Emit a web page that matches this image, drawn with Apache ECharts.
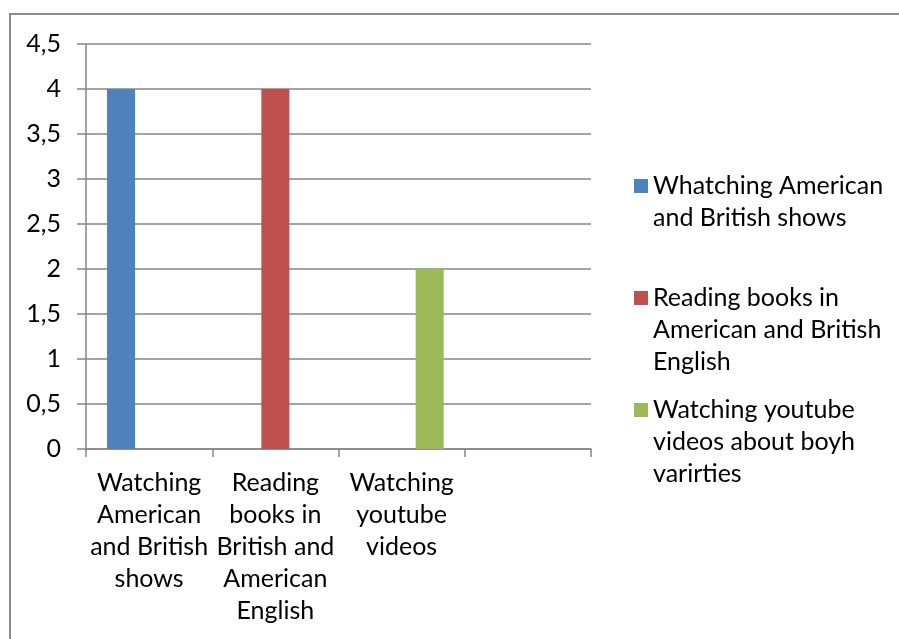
<!DOCTYPE html>
<html>
<head>
<meta charset="utf-8">
<script src="https://cdn.jsdelivr.net/npm/echarts@6/dist/echarts.min.js"></script>
<style>
  html, body { margin: 0; padding: 0; background: #fff; }
  #chart { width: 899px; height: 639px; }
</style>
</head>
<body>
<div id="chart"></div>
<script>
// Category labels (already broken into lines) for the x axis
const categories = [
  'Watching\nAmerican\nand British\nshows',
  'Reading\nbooks in\nBritish and\nAmerican\nEnglish',
  'Watching\nyoutube\nvideos',
  ''
];

// Series names and their line-broken legend text
const seriesNames = [
  'Whatching American and British shows',
  'Reading books in American and British English',
  'Watching youtube videos about boyh varirties'
];
const legendText = [
  'Whatching American\nand British shows',
  'Reading books in\nAmerican and British\nEnglish',
  'Watching youtube\nvideos about boyh\nvarirties'
];

// Values per series, one value per category
const showsValues   = [4, null, null, null];
const booksValues   = [null, 4, null, null];
const youtubeValues = [null, null, 2, null];

// Y axis ticks
const yMin = 0;
const yMax = 4.5;
const yStep = 0.5;

const colors = ['#4F81BD', '#C0504D', '#9BBB59'];
const seriesValues = [showsValues, booksValues, youtubeValues];

const FONT = 'Lato';
const FS = 25;
const LH = 32;

const chart = echarts.init(document.getElementById('chart'), null, { renderer: 'canvas' });

// One legend per series so each entry can sit at its own height.
// Legend text is centred on the swatch, so blank lines are added above
// to bring the first line level with the swatch.
const legendTops = [138, 218, 330];
const legends = seriesNames.map((name, i) => {
  const lines = legendText[i].split('\n').length;
  const text = ' \n'.repeat(lines - 1) + legendText[i];
  return {
    data: [name],
    left: 634,
    top: legendTops[i],
    orient: 'vertical',
    padding: 0,
    itemWidth: 14,
    itemHeight: 14,
    itemGap: 0,
    icon: 'rect',
    selectedMode: false,
    formatter: () => text,
    textStyle: {
      fontFamily: FONT,
      fontSize: FS,
      lineHeight: LH,
      color: '#000'
    }
  };
});

const option = {
  animation: false,
  backgroundColor: '#fff',
  textStyle: { fontFamily: FONT },
  graphic: [{
    type: 'rect',
    shape: { x: 10, y: 14, width: 960, height: 700 },
    style: { fill: 'none', stroke: '#8c8c8c', lineWidth: 2 },
    silent: true
  }],
  legend: legends,
  grid: { left: 86, right: 308, top: 44, bottom: 190 },
  xAxis: {
    type: 'category',
    data: categories,
    axisLine: { lineStyle: { color: '#868686', width: 1.5 } },
    axisTick: { show: true, length: 8, lineStyle: { color: '#868686', width: 1.5 } },
    axisLabel: {
      interval: 0,
      margin: 18,
      fontFamily: FONT,
      fontSize: FS,
      lineHeight: LH,
      color: '#000',
      align: 'center'
    },
    splitLine: { show: false }
  },
  yAxis: {
    type: 'value',
    min: yMin,
    max: yMax,
    interval: yStep,
    axisLine: { show: true, lineStyle: { color: '#868686', width: 1.5 } },
    axisTick: { show: true, length: 9, lineStyle: { color: '#868686', width: 1.5 } },
    axisLabel: {
      margin: 25,
      fontFamily: FONT,
      fontSize: FS,
      color: '#000',
      formatter: v => String(v).replace('.', ',')
    },
    splitLine: { show: true, lineStyle: { color: '#868686', width: 1.5 } }
  },
  series: seriesNames.map((name, i) => ({
    name: name,
    type: 'bar',
    data: seriesValues[i],
    barGap: '0%',
    barCategoryGap: '33.333%',
    itemStyle: { color: colors[i] }
  }))
};

chart.setOption(option);
</script>
</body>
</html>
